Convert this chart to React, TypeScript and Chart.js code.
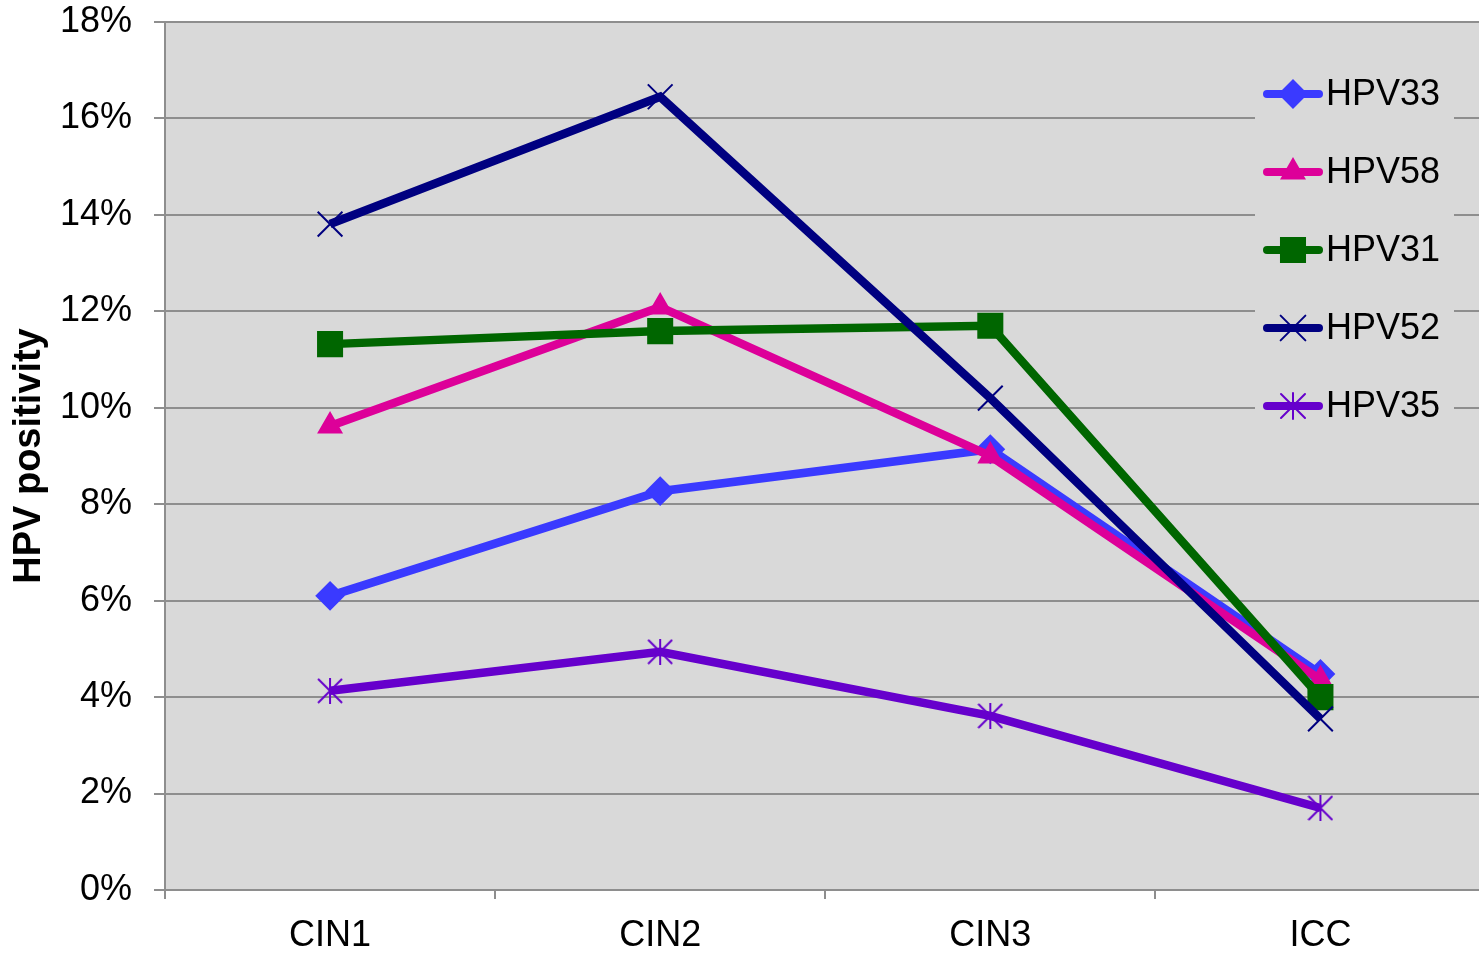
import React, { useEffect, useRef } from "react";
import { Chart, registerables } from "chart.js";

Chart.register(...registerables);

const categories = ["CIN1", "CIN2", "CIN3", "ICC"];
const seriesNames = ["HPV33", "HPV58", "HPV31", "HPV52", "HPV35"];
const hpv33 = [6.1, 8.27, 9.14, 4.48];
const hpv58 = [9.62, 12.09, 9.0, 4.36];
const hpv31 = [11.32, 11.59, 11.7, 4.0];
const hpv52 = [13.81, 16.45, 10.2, 3.55];
const hpv35 = [4.13, 4.94, 3.61, 1.7];
const seriesValues = [hpv33, hpv58, hpv31, hpv52, hpv35];
const seriesColors = ["#3a3aff", "#dd0099", "#006600", "#000080", "#6600cc"];
const yMax = 18;
const yStep = 2;

const FONT = "'Liberation Sans', Arial, sans-serif";

type Marker = "diamond" | "triangle" | "square" | "x" | "star";
const markers: Marker[] = ["diamond", "triangle", "square", "x", "star"];

function makeStarImage(color: string): HTMLCanvasElement {
  const c = document.createElement("canvas");
  c.width = 26;
  c.height = 26;
  const g = c.getContext("2d")!;
  g.strokeStyle = color;
  g.lineWidth = 2;
  g.beginPath();
  g.moveTo(13, 0);
  g.lineTo(13, 26);
  g.moveTo(1, 1);
  g.lineTo(25, 25);
  g.moveTo(25, 1);
  g.lineTo(1, 25);
  g.stroke();
  return c;
}

function pointOpts(m: Marker, star: HTMLCanvasElement) {
  switch (m) {
    case "diamond":
      return { pointStyle: "rectRot", pointRadius: 13.5, pointBorderWidth: 2 };
    case "triangle":
      return { pointStyle: "triangle", pointRadius: 13, pointBorderWidth: 2 };
    case "square":
      return { pointStyle: "rect", pointRadius: 17, pointBorderWidth: 2 };
    case "x":
      return { pointStyle: "crossRot", pointRadius: 17.5, pointBorderWidth: 2 };
    default:
      return { pointStyle: star, pointRadius: 13, pointBorderWidth: 2 };
  }
}

function drawMarker(ctx: CanvasRenderingContext2D, m: Marker, x: number, y: number, color: string) {
  ctx.save();
  ctx.fillStyle = color;
  ctx.strokeStyle = color;
  ctx.lineWidth = 2;
  ctx.beginPath();
  if (m === "diamond") {
    const r = 13.5;
    ctx.moveTo(x - r, y);
    ctx.lineTo(x, y - r);
    ctx.lineTo(x + r, y);
    ctx.lineTo(x, y + r);
    ctx.closePath();
    ctx.fill();
    ctx.stroke();
  } else if (m === "triangle") {
    const r = 13;
    ctx.moveTo(x, y - r);
    ctx.lineTo(x + r * Math.sin((2 * Math.PI) / 3), y + r / 2);
    ctx.lineTo(x - r * Math.sin((2 * Math.PI) / 3), y + r / 2);
    ctx.closePath();
    ctx.fill();
    ctx.stroke();
  } else if (m === "square") {
    const s = 17 * Math.SQRT1_2;
    ctx.rect(x - s, y - s, 2 * s, 2 * s);
    ctx.fill();
    ctx.stroke();
  } else if (m === "x") {
    const o = 17.5 * Math.SQRT1_2;
    ctx.moveTo(x - o, y - o);
    ctx.lineTo(x + o, y + o);
    ctx.moveTo(x + o, y - o);
    ctx.lineTo(x - o, y + o);
    ctx.stroke();
  } else {
    ctx.moveTo(x, y - 13);
    ctx.lineTo(x, y + 13);
    ctx.moveTo(x - 12, y - 12);
    ctx.lineTo(x + 12, y + 12);
    ctx.moveTo(x + 12, y - 12);
    ctx.lineTo(x - 12, y + 12);
    ctx.stroke();
  }
  ctx.restore();
}

const plotBackground = {
  id: "plotBackground",
  beforeDraw(chart: any) {
    const { ctx, chartArea } = chart;
    ctx.save();
    ctx.fillStyle = "#d9d9d9";
    ctx.fillRect(chartArea.left, chartArea.top, chartArea.right - chartArea.left, chartArea.bottom - chartArea.top);
    ctx.restore();
  },
};

const insetLegend = {
  id: "insetLegend",
  afterDatasetsDraw(chart: any) {
    const ctx: CanvasRenderingContext2D = chart.ctx;
    ctx.save();
    ctx.fillStyle = "#d9d9d9";
    ctx.fillRect(1255, 55, 199, 385);
    seriesNames.forEach((name, i) => {
      const y = 94 + i * 78;
      const color = seriesColors[i];
      ctx.strokeStyle = color;
      ctx.lineWidth = 8;
      ctx.lineCap = "round";
      ctx.beginPath();
      ctx.moveTo(1267, y);
      ctx.lineTo(1319, y);
      ctx.stroke();
      drawMarker(ctx, markers[i], 1293, y, color);
      ctx.fillStyle = "#000000";
      ctx.font = `36px ${FONT}`;
      ctx.textAlign = "left";
      ctx.textBaseline = "middle";
      ctx.fillText(name, 1326, y + 1);
    });
    ctx.restore();
  },
};

export default function App() {
  const canvasRef = useRef<HTMLCanvasElement | null>(null);

  useEffect(() => {
    const canvas = canvasRef.current;
    if (!canvas) return;
    const datasets = seriesNames.map((name, i) => {
      const color = seriesColors[i];
      const star = makeStarImage(color);
      return {
        label: name,
        data: seriesValues[i],
        borderColor: color,
        backgroundColor: color,
        pointBackgroundColor: color,
        pointBorderColor: color,
        borderWidth: 8.5,
        tension: 0,
        fill: false,
        order: seriesNames.length - 1 - i,
        ...pointOpts(markers[i], star),
      };
    });

    const chart = new Chart(canvas, {
      type: "line",
      data: { labels: categories, datasets: datasets as any },
      options: {
        animation: false,
        responsive: false,
        devicePixelRatio: 1,
        layout: { padding: { top: 22, left: 0, right: 0, bottom: 0 } },
        plugins: {
          legend: { display: false },
          tooltip: { enabled: false },
        },
        scales: {
          x: {
            type: "category",
            offset: true,
            grid: {
              offset: true,
              drawOnChartArea: false,
              drawTicks: true,
              tickLength: 9,
              color: "#8e8e8e",
              lineWidth: 2,
            },
            border: { display: true, color: "#8e8e8e", width: 2 },
            ticks: {
              color: "#000000",
              font: { family: FONT, size: 36 },
              padding: 15,
              maxRotation: 0,
              autoSkip: false,
            },
            afterFit: (s: any) => {
              s.height = 64;
              s.paddingLeft = 0;
              s.paddingRight = 0;
            },
          },
          y: {
            min: 0,
            max: yMax,
            grid: {
              color: "#8e8e8e",
              lineWidth: 2,
              drawTicks: true,
              tickLength: 11,
            },
            border: { display: true, color: "#8e8e8e", width: 2 },
            ticks: {
              stepSize: yStep,
              color: "#000000",
              font: { family: FONT, size: 36 },
              padding: 22,
              callback: (v: any) => `${v}%`,
            },
            title: {
              display: true,
              text: "HPV positivity",
              color: "#000000",
              font: { family: FONT, size: 38, weight: "bold" },
              padding: { top: 7, bottom: 0 },
            },
            afterFit: (s: any) => {
              s.width = 165;
              s.paddingTop = 0;
              s.paddingBottom = 0;
            },
          },
        },
      },
      plugins: [plotBackground, insetLegend],
    });

    return () => chart.destroy();
  }, []);

  return (
    <div
      style={{
        position: "fixed",
        left: 0,
        top: 0,
        width: 1479,
        height: 954,
        overflow: "hidden",
        background: "#ffffff",
      }}
    >
      <canvas ref={canvasRef} width={1505} height={954} style={{ width: 1505, height: 954, display: "block" }} />
    </div>
  );
}
